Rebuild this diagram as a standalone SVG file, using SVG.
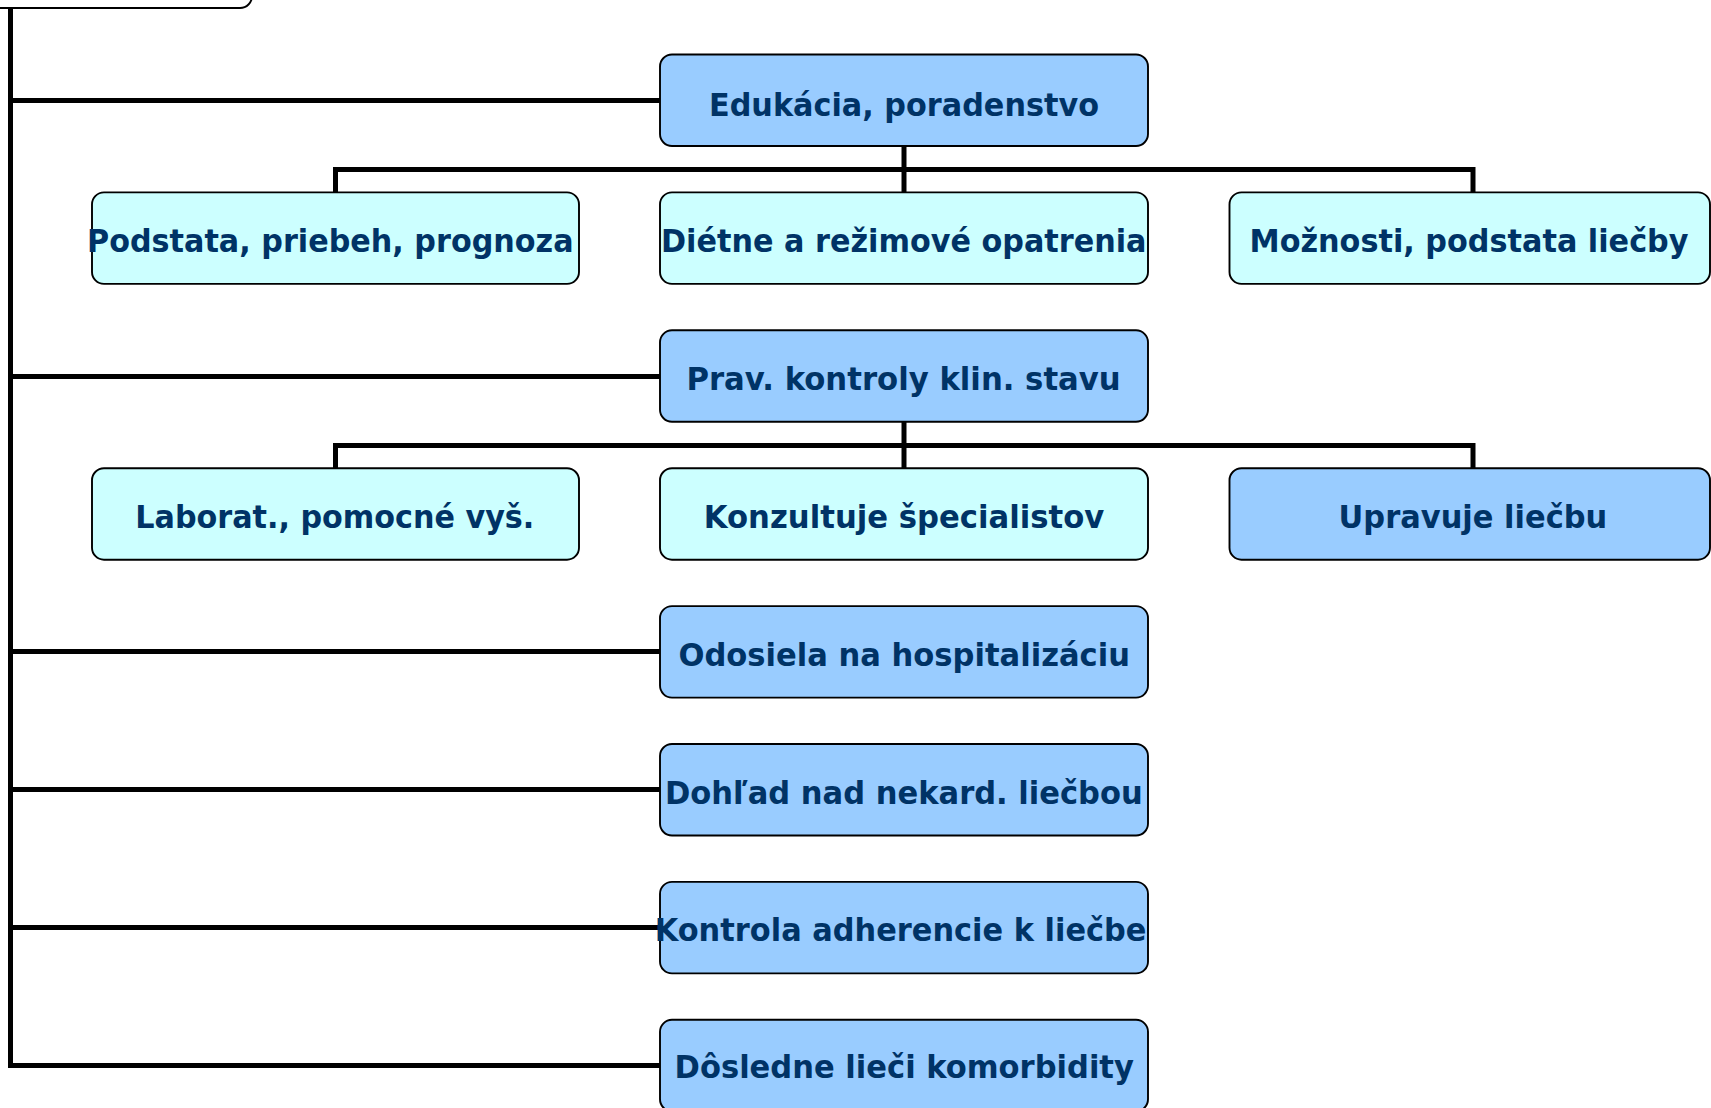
<svg xmlns="http://www.w3.org/2000/svg" width="1711" height="1108" viewBox="0 0 1711 1108">
<style>
.box{stroke:#000;stroke-width:1.9}
.dark{fill:#99CCFF}
.light{fill:#CCFFFF}
.top{fill:#fff}
.lbl{font-family:"DejaVu Sans","Verdana",sans-serif;font-weight:bold;font-size:32.5px;fill:#003366}
.ln{fill:none;stroke:#000;stroke-width:5;stroke-linejoin:miter;stroke-linecap:butt}
</style>
<rect width="1711" height="1108" fill="#fff"/>
<g id="connectors">
<path class="ln" d="M10.5 8 V1065.5 H662"/>
<path class="ln" d="M10.5 100.5 H662"/>
<path class="ln" d="M10.5 376.5 H662"/>
<path class="ln" d="M10.5 651.5 H662"/>
<path class="ln" d="M10.5 789.5 H662"/>
<path class="ln" d="M10.5 927.5 H662"/>
<path class="ln" d="M904 146 V194"/>
<path class="ln" d="M335.5 194 V169.5 H1473 V194"/>
<path class="ln" d="M904 421.8 V470"/>
<path class="ln" d="M335.5 470 V445.5 H1473 V470"/>
</g>
<g id="node-top">
<rect class="box top" x="-20" y="-60" width="272" height="68" rx="12"/>
</g>
<g id="node-edukacia">
<rect class="box dark" x="660" y="54.5" width="488" height="91.5" rx="12"/>
<text class="lbl" x="709" y="115.5" textLength="390" lengthAdjust="spacingAndGlyphs">Edukácia, poradenstvo</text>
</g>
<g id="node-podstata">
<rect class="box light" x="92" y="192.4" width="487" height="91.5" rx="12"/>
<text class="lbl" x="87" y="251.5" textLength="486.6" lengthAdjust="spacingAndGlyphs">Podstata, priebeh, prognoza</text>
</g>
<g id="node-dietne">
<rect class="box light" x="660" y="192.4" width="488" height="91.5" rx="12"/>
<text class="lbl" x="661" y="251.5" textLength="485.5" lengthAdjust="spacingAndGlyphs">Diétne a režimové opatrenia</text>
</g>
<g id="node-moznosti">
<rect class="box light" x="1229.5" y="192.4" width="480.5" height="91.5" rx="12"/>
<text class="lbl" x="1249.5" y="251.5" textLength="439" lengthAdjust="spacingAndGlyphs">Možnosti, podstata liečby</text>
</g>
<g id="node-prav">
<rect class="box dark" x="660" y="330.3" width="488" height="91.5" rx="12"/>
<text class="lbl" x="686.4" y="389.8" textLength="434.3" lengthAdjust="spacingAndGlyphs">Prav. kontroly klin. stavu</text>
</g>
<g id="node-laborat">
<rect class="box light" x="92" y="468.2" width="487" height="91.5" rx="12"/>
<text class="lbl" x="135.3" y="528" textLength="399" lengthAdjust="spacingAndGlyphs">Laborat., pomocné vyš.</text>
</g>
<g id="node-konzultuje">
<rect class="box light" x="660" y="468.2" width="488" height="91.5" rx="12"/>
<text class="lbl" x="703.8" y="528" textLength="400.5" lengthAdjust="spacingAndGlyphs">Konzultuje špecialistov</text>
</g>
<g id="node-upravuje">
<rect class="box dark" x="1229.5" y="468.2" width="480.5" height="91.5" rx="12"/>
<text class="lbl" x="1338.6" y="528" textLength="268.7" lengthAdjust="spacingAndGlyphs">Upravuje liečbu</text>
</g>
<g id="node-odosiela">
<rect class="box dark" x="660" y="606.1" width="488" height="91.5" rx="12"/>
<text class="lbl" x="678.4" y="665.5" textLength="451.6" lengthAdjust="spacingAndGlyphs">Odosiela na hospitalizáciu</text>
</g>
<g id="node-dohlad">
<rect class="box dark" x="660" y="744" width="488" height="91.5" rx="12"/>
<text class="lbl" x="665" y="803.5" textLength="477.7" lengthAdjust="spacingAndGlyphs">Dohľad nad nekard. liečbou</text>
</g>
<g id="node-kontrola">
<rect class="box dark" x="660" y="881.9" width="488" height="91.5" rx="12"/>
<text class="lbl" x="654.7" y="941.3" textLength="491.8" lengthAdjust="spacingAndGlyphs">Kontrola adherencie k liečbe</text>
</g>
<g id="node-dosledne">
<rect class="box dark" x="660" y="1019.8" width="488" height="91.5" rx="12"/>
<text class="lbl" x="674.6" y="1078.3" textLength="459.3" lengthAdjust="spacingAndGlyphs">Dôsledne lieči komorbidity</text>
</g>
</svg>
